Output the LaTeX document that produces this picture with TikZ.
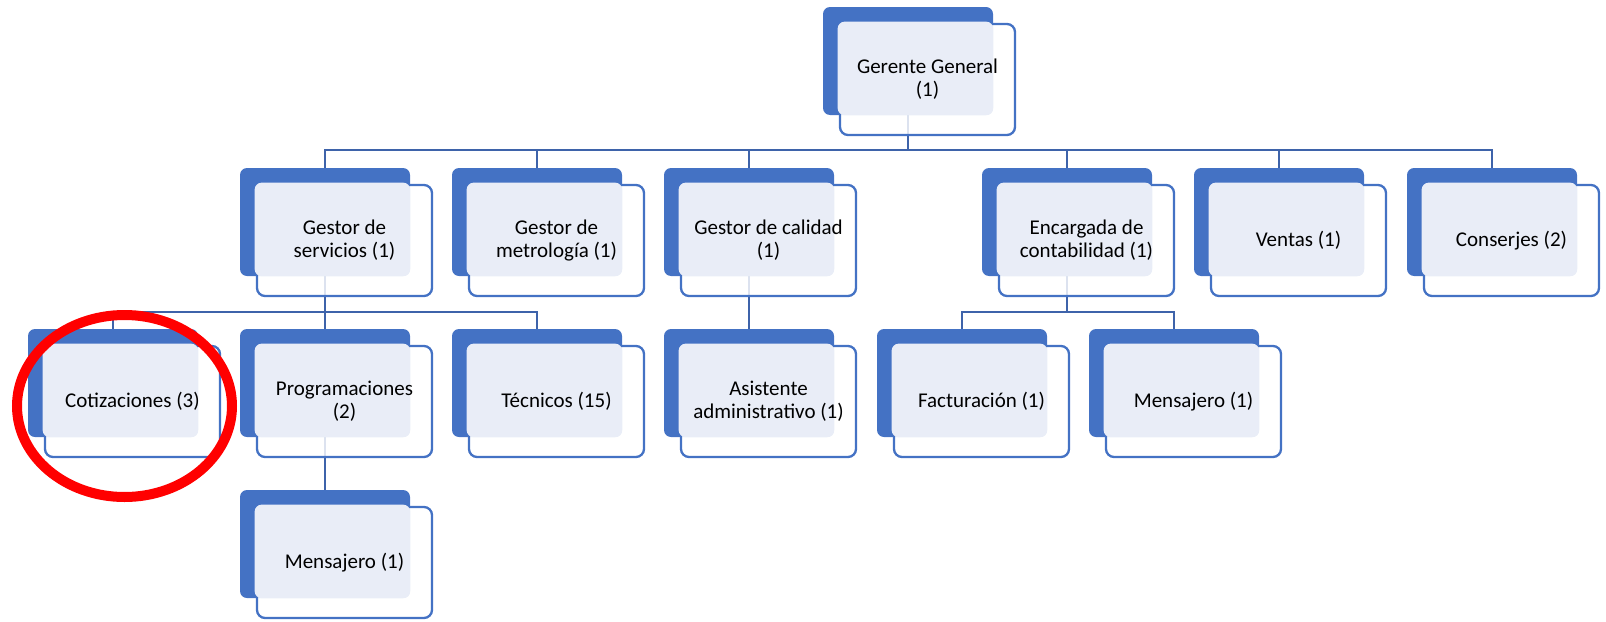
\documentclass[tikz,border=0pt]{standalone}
\usepackage{fontspec}
\setmainfont{Carlito}
\usetikzlibrary{calc}
\pgfdeclarelayer{links}
\pgfsetlayers{links,main}
\definecolor{accent}{HTML}{4472C4}
\definecolor{linkblue}{HTML}{3E63AA}
\definecolor{paleblue}{HTML}{E9EDF7}
\tikzset{
  backbox/.style={fill=accent, rounded corners=7pt, minimum width=170pt, minimum height=108pt, inner sep=0pt},
  frontbox/.style={draw=accent, line width=2.3pt, fill=white, fill opacity=0.82, rounded corners=8pt, minimum width=175pt, minimum height=111pt, inner sep=0pt},
  lite/.style={fill=paleblue, rounded corners=7pt},
  labeltext/.style={align=center, inner sep=0pt, text=black, font=\fontsize{21}{23}\selectfont},
  link/.style={draw=linkblue, line width=2.6pt},
  mark ring/.style={draw=red, line width=10pt}
}
% one unit of the chart: name, left and top of the solid back card, label
\newcommand{\orgunit}[4]{%
  \node[backbox] (#1b) at (#2+85,#3+54) {};
  \node[frontbox] (#1) at (#2+104.5,#3+72.5) {};
  \fill[lite] ($(#1.north west)+(-1.2,-1.2)$) rectangle (#1b.south east);
  \node[labeltext] (#1t) at (#1.center) {#4};
}
\begin{document}
\begin{tikzpicture}[x=1pt, y=-1pt]
\useasboundingbox (0,0) rectangle (1606,621);
% bus levels of the connectors
\coordinate (busA) at (0,150);
\coordinate (busB) at (0,312);

% cards
\orgunit{gg}{823}{7}{Gerente General\\(1)}
\orgunit{gs}{240}{168}{Gestor de\\servicios (1)}
\orgunit{gm}{452}{168}{Gestor de\\metrología (1)}
\orgunit{gc}{664}{168}{Gestor de calidad\\(1)}
\orgunit{ec}{982}{168}{Encargada de\\contabilidad (1)}
\orgunit{ve}{1194}{168}{Ventas (1)}
\orgunit{co}{1407}{168}{Conserjes (2)}
\orgunit{cot}{28}{329}{Cotizaciones (3)}
\orgunit{pro}{240}{329}{Programaciones\\(2)}
\orgunit{tec}{452}{329}{Técnicos (15)}
\orgunit{asi}{664}{329}{Asistente\\administrativo (1)}
\orgunit{fac}{877}{329}{Facturación (1)}
\orgunit{mes}{1089}{329}{Mensajero (1)}
\orgunit{mej}{240}{490}{Mensajero (1)}

% connectors, kept beneath the cards
\begin{pgfonlayer}{links}
  \foreach \nm in {gs, gm, gc, ec, ve, co}{
    \draw[link] (ggb.south) -- (ggb.south |- busA) -| (\nm b.north);
  }
  \foreach \nm in {cot, pro, tec}{
    \draw[link] (gsb.south) -- (gsb.south |- busB) -| (\nm b.north);
  }
  \draw[link] (gcb.south) -- (asib.north);
  \foreach \nm in {fac, mes}{
    \draw[link] (ecb.south) -- (ecb.south |- busB) -| (\nm b.north);
  }
  \draw[link] (prob.south) -- (mejb.north);
\end{pgfonlayer}

% highlight ring
\draw[mark ring] (124.5,406) ellipse [x radius=107.5, y radius=91];
\end{tikzpicture}
\end{document}
